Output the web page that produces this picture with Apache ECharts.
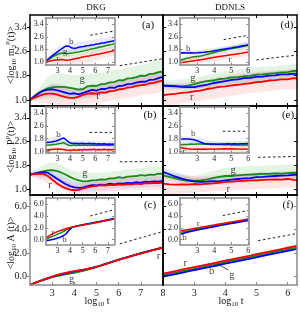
<!DOCTYPE html>
<html><head><meta charset="utf-8">
<script src="https://cdn.jsdelivr.net/npm/echarts@6/dist/echarts.min.js"></script>
<style>html,body{margin:0;padding:0;background:#fff}#c{width:300px;height:315px}</style>
</head><body><div id="c"></div>
<script>
// ---------- x grids ----------
const xL  = [2.0,2.2,2.4,2.6,2.8,3.0,3.2,3.4,3.6,3.8,4.0,4.2,4.4,4.6,4.8,5.0,5.2,5.4,5.6,5.8,6.0,6.2,6.4,6.6,6.8,7.0,7.2,7.4,7.6,7.8,8.0];
const xR  = [2.0,2.2,2.4,2.6,2.8,3.0,3.2,3.4,3.6,3.8,4.0,4.2,4.4,4.6,4.8,5.0,5.2,5.4,5.6,5.8,6.0,6.2,6.3];
const xLi = [2.1,2.3,2.5,2.7,2.9,3.1,3.3,3.5,3.7,3.9,4.1,4.3,4.5,4.7,4.9,5.1,5.3,5.5,5.7,5.9,6.1,6.3,6.5,6.7,6.9,7.1,7.3,7.5];
const xRi = [2.0,2.2,2.4,2.6,2.8,3.0,3.2,3.4,3.6,3.8,4.0,4.2,4.4,4.6,4.8,5.0,5.2,5.4,5.6,5.8,6.0];
const bxL = [2,3,4,5,6,7,8];
const bxR = [2,3,4,5,6,6.3];
const bxLi = [2.1,3,4,5,6,7,7.5];
const bxRi = [2,3,4,5,6];

// ---------- tick labels ----------
const tickXL = [3,4,5,6,7,8];
const tickXR = [3,4,5,6];
const tickXLi = [3,4,5,6,7];
const tickXRi = [3,4,5,6];
const tickYm = [1.0,1.8,2.6,3.4];
const tickYA = [0,2,4,6];

// ---------- panel (a) DKG m2 ----------
const aG = [1.00,1.12,1.24,1.32,1.38,1.41,1.43,1.43,1.42,1.40,1.37,1.34,1.36,1.45,1.47,1.46,1.52,1.53,1.58,1.59,1.65,1.64,1.71,1.72,1.75,1.80,1.79,1.86,1.87,1.92,1.93];
const aB = [1.00,1.12,1.22,1.30,1.34,1.35,1.32,1.28,1.24,1.20,1.22,1.18,1.23,1.28,1.33,1.31,1.36,1.36,1.41,1.40,1.46,1.47,1.52,1.53,1.57,1.60,1.60,1.66,1.67,1.72,1.76];
const aR = [1.00,1.07,1.13,1.18,1.21,1.21,1.18,1.13,1.09,1.07,1.07,1.11,1.17,1.21,1.22,1.21,1.25,1.24,1.29,1.30,1.35,1.36,1.41,1.42,1.46,1.49,1.50,1.55,1.56,1.61,1.64];
const aGlo = [1.0,1.05,1.0,1.1,1.3,1.45,1.6],  aGhi = [1.0,1.85,1.82,1.88,2.0,2.15,2.3];
const aBlo = [1.0,1.15,1.05,1.15,1.3,1.42,1.55], aBhi = [1.0,1.55,1.4,1.5,1.62,1.78,1.95];
const aRlo = [1.0,0.85,0.85,0.9,1.02,1.15,1.3], aRhi = [1.0,1.5,1.35,1.5,1.65,1.8,1.95];
const aDashX = [6.05,8.0], aDashY = [2.13,2.36];
const aLab = [[4.35,1.68,'g'],[5.07,1.12,'r']];
const aiB = [1.08,1.20,1.33,1.46,1.58,1.70,1.82,1.93,2.02,2.00,1.90,1.86,1.88,1.93,1.96,1.98,2.03,2.05,2.08,2.10,2.14,2.16,2.20,2.21,2.26,2.29,2.31,2.36];
const aiG = [1.06,1.16,1.26,1.36,1.44,1.50,1.55,1.56,1.53,1.54,1.56,1.58,1.61,1.63,1.68,1.70,1.75,1.78,1.82,1.85,1.89,1.93,1.97,1.99,2.04,2.07,2.10,2.15];
const aiR = [1.00,1.04,1.07,1.10,1.12,1.14,1.15,1.13,1.11,1.12,1.15,1.19,1.22,1.25,1.30,1.32,1.36,1.38,1.42,1.44,1.48,1.50,1.54,1.57,1.62,1.64,1.68,1.73];
const aiGlo = [1.0,1.3,1.35,1.45,1.6,1.8,1.9],   aiGhi = [1.12,1.7,1.75,1.9,2.1,2.25,2.35];
const aiBlo = [1.05,1.5,1.65,1.75,1.9,2.05,2.15], aiBhi = [1.15,1.95,2.2,2.3,2.45,2.55,2.65];
const aiRlo = [0.9,0.85,0.85,0.95,1.1,1.3,1.4],  aiRhi = [1.1,1.4,1.4,1.55,1.75,1.9,2.0];
const aiDashX = [5.6,7.5], aiDashY = [2.70,2.97];
const aiLab = [[4.1,2.27,'b'],[3.61,1.63,'g'],[3.05,1.2,'r']];

// ---------- panel (b) DKG P ----------
const bG = [1.49,1.52,1.56,1.60,1.63,1.64,1.61,1.56,1.49,1.41,1.34,1.29,1.26,1.27,1.29,1.30,1.33,1.32,1.36,1.36,1.40,1.38,1.42,1.43,1.44,1.47,1.45,1.49,1.48,1.52,1.51];
const bB = [1.49,1.52,1.55,1.57,1.55,1.46,1.36,1.26,1.17,1.10,1.06,1.04,1.06,1.10,1.13,1.12,1.15,1.14,1.18,1.16,1.19,1.18,1.21,1.20,1.23,1.22,1.25,1.24,1.26,1.25,1.28];
const bR = [1.49,1.51,1.52,1.51,1.44,1.32,1.20,1.10,1.03,0.98,0.96,0.97,1.02,1.06,1.09,1.11,1.13,1.12,1.14,1.13,1.16,1.14,1.17,1.16,1.18,1.17,1.20,1.19,1.21,1.20,1.22];
const bGlo = [1.45,1.4,1.1,1.1,1.2,1.28,1.3],   bGhi = [1.55,1.9,1.6,1.55,1.62,1.7,1.75];
const bBlo = [1.45,1.3,0.9,0.95,1.02,1.05,1.1],  bBhi = [1.55,1.65,1.25,1.3,1.38,1.4,1.45];
const bRlo = [1.45,1.15,0.8,0.88,0.95,0.98,1.0], bRhi = [1.55,1.5,1.15,1.32,1.38,1.38,1.42];
const bDashX = [6.05,8.0], bDashY = [1.92,1.93];
const bLab = [[4.48,1.54,'g'],[2.9,1.13,'r']];
const biB = [1.56,1.58,1.60,1.63,1.66,1.72,1.79,1.85,1.72,1.58,1.51,1.50,1.52,1.49,1.51,1.50,1.48,1.51,1.49,1.50,1.47,1.49,1.46,1.48,1.45,1.47,1.45,1.46];
const biG = [1.39,1.40,1.41,1.43,1.45,1.48,1.51,1.56,1.46,1.39,1.38,1.40,1.38,1.40,1.39,1.41,1.38,1.40,1.39,1.41,1.38,1.40,1.39,1.41,1.38,1.40,1.39,1.40];
const biR = [1.08,1.10,1.12,1.13,1.14,1.15,1.14,1.12,1.09,1.07,1.08,1.10,1.08,1.11,1.09,1.12,1.10,1.12,1.11,1.13,1.10,1.12,1.11,1.13,1.10,1.12,1.11,1.12];
const biBlo = [1.45,1.5,1.35,1.35,1.32,1.3,1.3],  biBhi = [1.7,2.0,1.7,1.68,1.65,1.62,1.62];
const biGlo = [1.3,1.35,1.28,1.28,1.27,1.27,1.27], biGhi = [1.5,1.62,1.52,1.52,1.52,1.52,1.52];
const biRlo = [0.95,0.98,0.95,0.97,0.97,0.97,0.97], biRhi = [1.2,1.3,1.22,1.25,1.25,1.25,1.25];
const biDashX = [5.55,7.5], biDashY = [2.2,2.2];
const biLab = [[3.08,2.03,'b'],[2.35,1.0,'r']];

// ---------- panel (c) DKG A ----------
const cR = [-0.70,-0.55,-0.41,-0.27,-0.13,0.00,0.12,0.23,0.32,0.40,0.46,0.52,0.58,0.65,0.73,0.83,0.94,1.06,1.18,1.30,1.42,1.53,1.64,1.75,1.86,1.96,2.06,2.16,2.26,2.35,2.44];
const cG = [-0.70,-0.56,-0.42,-0.29,-0.17,-0.06,0.03,0.11,0.18,0.25,0.32,0.40,0.49,0.59,0.70,0.81,0.93,1.06,1.18,1.31,1.43,1.55,1.66,1.77,1.88,1.99,2.09,2.19,2.29,2.39,2.49];
const cB = [-0.70,-0.55,-0.42,-0.28,-0.14,-0.02,0.09,0.19,0.28,0.36,0.43,0.50,0.57,0.65,0.74,0.84,0.95,1.07,1.19,1.31,1.43,1.54,1.65,1.76,1.87,1.98,2.08,2.18,2.28,2.37,2.47];
const cDashX = [6.05,8.0], cDashY = [2.78,3.84];
const cLab = [[3.88,-0.2,'g'],[7.8,1.75,'r']];
const ciR = [0.35,0.62,0.86,1.08,1.28,1.45,1.60,1.74,1.87,1.98,2.08,2.17,2.26,2.34,2.42,2.50,2.58,2.66,2.74,2.82,2.90,2.98,3.06,3.14,3.23,3.31,3.40,3.48];
const ciG = [0.10,0.28,0.46,0.64,0.82,1.00,1.20,1.42,1.66,1.88,2.04,2.15,2.25,2.34,2.42,2.50,2.58,2.66,2.74,2.82,2.90,2.98,3.07,3.15,3.24,3.33,3.42,3.51];
const ciB = [-0.15,-0.10,-0.02,0.08,0.20,0.34,0.50,0.72,1.05,1.55,1.98,2.20,2.31,2.40,2.48,2.56,2.64,2.72,2.80,2.88,2.96,3.04,3.13,3.22,3.31,3.40,3.49,3.58];
const ciDashX = [5.6,7.5], ciDashY = [3.98,5.05];
const ciLab = [[2.62,1.12,'r'],[3.55,-0.05,'b']];

// ---------- panel (d) DDNLS m2 ----------
const dG = [1.48,1.47,1.46,1.45,1.47,1.52,1.58,1.62,1.64,1.69,1.70,1.74,1.75,1.78,1.79,1.83,1.84,1.87,1.88,1.91,1.92,1.96,1.95];
const dB = [1.47,1.46,1.45,1.43,1.42,1.42,1.46,1.50,1.55,1.59,1.62,1.66,1.68,1.72,1.73,1.76,1.77,1.80,1.81,1.84,1.84,1.87,1.86];
const dR = [1.16,1.18,1.20,1.23,1.25,1.28,1.31,1.36,1.39,1.43,1.45,1.48,1.50,1.53,1.55,1.59,1.60,1.64,1.65,1.68,1.68,1.72,1.70];
const dGlo = [1.35,1.35,1.5,1.6,1.7,1.72],  dGhi = [1.6,1.72,1.95,2.08,2.15,2.18];
const dBlo = [1.4,1.35,1.52,1.62,1.72,1.74], dBhi = [1.55,1.52,1.75,1.9,1.98,2.0];
const dRlo = [0.85,0.95,1.1,1.25,1.35,1.38], dRhi = [1.45,1.6,1.8,1.92,2.0,2.02];
const dDashX = [5.0,6.3], dDashY = [2.32,2.48];
const dLab = [[2.96,1.71,'g'],[2.92,1.09,'r']];
const diB = [1.57,1.58,1.57,1.58,1.57,1.58,1.60,1.61,1.64,1.67,1.71,1.75,1.79,1.82,1.86,1.89,1.93,1.96,2.01,2.05,2.09];
const diG = [1.10,1.17,1.23,1.28,1.32,1.35,1.38,1.43,1.49,1.55,1.60,1.66,1.71,1.76,1.81,1.85,1.89,1.92,1.97,2.01,2.05];
const diR = [0.95,0.98,1.01,1.04,1.07,1.10,1.13,1.17,1.21,1.25,1.29,1.33,1.36,1.39,1.42,1.45,1.48,1.52,1.55,1.59,1.63];
const diBlo = [1.5,1.5,1.6,1.75,1.95], diBhi = [1.7,1.75,1.9,2.05,2.25];
const diGlo = [1.0,1.2,1.45,1.7,1.9],  diGhi = [1.25,1.55,1.8,2.05,2.25];
const diRlo = [0.82,0.9,1.05,1.2,1.4], diRhi = [1.1,1.35,1.55,1.7,1.85];
const diDashX = [4.55,6.0], diDashY = [2.42,2.70];
const diLab = [[2.47,1.82,'b'],[4.92,1.13,'r']];

// ---------- panel (e) DDNLS P ----------
const eB = [1.58,1.50,1.42,1.35,1.30,1.26,1.24,1.25,1.27,1.26,1.29,1.32,1.34,1.36,1.37,1.40,1.41,1.43,1.44,1.45,1.46,1.48,1.49];
const eG = [1.46,1.41,1.36,1.31,1.28,1.28,1.29,1.32,1.37,1.41,1.44,1.44,1.46,1.48,1.49,1.50,1.51,1.51,1.53,1.52,1.54,1.55,1.54];
const eR = [1.18,1.16,1.15,1.16,1.15,1.17,1.16,1.18,1.19,1.21,1.24,1.25,1.27,1.28,1.29,1.29,1.31,1.32,1.33,1.32,1.34,1.31,1.30];
const eGlo = [1.35,1.15,1.3,1.35,1.38,1.38], eGhi = [1.6,1.45,1.72,1.78,1.82,1.82];
const eBlo = [1.45,1.12,1.15,1.25,1.3,1.3],  eBhi = [1.7,1.38,1.45,1.55,1.6,1.62];
const eRlo = [0.85,0.88,0.95,1.0,1.05,1.05], eRhi = [1.45,1.42,1.5,1.55,1.58,1.58];
const eDashX = [5.05,6.3], eDashY = [2.07,2.10];
const eLab = [[4.25,1.63,'g'],[4.09,0.99,'r']];
const eiB = [1.78,1.79,1.78,1.77,1.73,1.67,1.58,1.50,1.47,1.46,1.47,1.45,1.47,1.46,1.48,1.46,1.48,1.47,1.49,1.48,1.50];
const eiG = [1.42,1.43,1.44,1.46,1.45,1.47,1.46,1.45,1.46,1.44,1.45,1.43,1.44,1.42,1.43,1.41,1.42,1.40,1.41,1.40,1.41];
const eiR = [1.24,1.20,1.17,1.15,1.14,1.15,1.13,1.15,1.14,1.16,1.14,1.16,1.15,1.17,1.16,1.17,1.15,1.16,1.14,1.16,1.14];
const eiBlo = [1.65,1.5,1.35,1.35,1.38], eiBhi = [1.95,1.9,1.62,1.62,1.65];
const eiGlo = [1.3,1.35,1.32,1.3,1.3],   eiGhi = [1.55,1.62,1.62,1.6,1.6];
const eiRlo = [1.0,0.98,0.98,1.0,0.98],  eiRhi = [1.4,1.32,1.32,1.33,1.32];
const eiDashX = [4.5,5.95], eiDashY = [2.27,2.27];
const eiLab = [[2.76,2.1,'b'],[2.22,1.0,'r']];

// ---------- panel (f) DDNLS A ----------
const fR = [0.25,0.36,0.47,0.58,0.69,0.80,0.91,1.02,1.13,1.24,1.35,1.46,1.57,1.68,1.79,1.90,2.01,2.12,2.23,2.34,2.45,2.56,2.61];
const fG = [0.12,0.22,0.33,0.44,0.55,0.66,0.77,0.88,0.99,1.11,1.22,1.33,1.44,1.55,1.66,1.77,1.88,1.99,2.10,2.21,2.32,2.43,2.49];
const fB = [0.00,0.10,0.21,0.32,0.43,0.54,0.65,0.76,0.87,0.98,1.09,1.20,1.31,1.42,1.53,1.64,1.75,1.86,1.97,2.08,2.19,2.30,2.36];
const fDashX = [5.05,6.3], fDashY = [3.05,3.66];
const fLab = [[2.71,1.17,'r'],[3.56,0.41,'b'],[4.21,0.15,'g']];
const fLeadX = [3.75,4.1], fLeadY = [1.07,0.55];
const fiR = [1.50,1.59,1.68,1.78,1.88,1.98,2.08,2.18,2.28,2.38,2.48,2.58,2.68,2.78,2.88,2.98,3.08,3.18,3.28,3.38,3.48];
const fiG = [1.22,1.33,1.44,1.55,1.66,1.77,1.88,1.99,2.10,2.21,2.32,2.42,2.52,2.62,2.72,2.82,2.92,3.02,3.12,3.22,3.32];
const fiB = [0.90,1.08,1.24,1.38,1.51,1.63,1.75,1.86,1.97,2.08,2.19,2.30,2.41,2.52,2.62,2.72,2.82,2.92,3.02,3.12,3.22];
const fiDashX = [4.5,6.0], fiDashY = [4.05,4.9];
const fiLab = [[3.06,2.7,'r'],[2.25,0.3,'b']];

// ---------- styling ----------
const F = '"Liberation Serif","DejaVu Serif",serif';
const COL = {R:'#f40000', G:'#178a17', B:'#0000f2'};
const FILL = {R:'rgba(255,80,80,0.14)', G:'rgba(40,170,40,0.13)', B:'rgba(80,80,255,0.12)'};
const K = '#000', GR = '#8a8a8a';

const panels = [
 {box:[30,15,133,91], x:[2,8], y:[0.8,3.8], xs:xL, R:aR, G:aG, B:aB, bx:bxL, bands:{G:[aGlo,aGhi],B:[aBlo,aBhi],R:[aRlo,aRhi]}, dash:[aDashX,aDashY], lab:aLab, c:{l:K,r:K,t:K,b:K}, xt:tickXL, yt:tickYm, xl:false, yl:true, yout:true, lw:1.8, fs:10},
 {box:[45.7,18,68.6,47], x:[2.07,7.5], y:[0.8,3.8], xs:xLi, R:aiR, G:aiG, B:aiB, bx:bxLi, bands:{G:[aiGlo,aiGhi],B:[aiBlo,aiBhi],R:[aiRlo,aiRhi]}, dash:[aiDashX,aiDashY], lab:aiLab, c:{l:GR,r:GR,t:GR,b:GR}, xt:tickXLi, yt:tickYm, xl:true, yl:true, inset:true, lw:1.5, fs:8},
 {box:[30,106,133,89], x:[2,8], y:[0.8,3.8], xs:xL, R:bR, G:bG, B:bB, bx:bxL, bands:{G:[bGlo,bGhi],B:[bBlo,bBhi],R:[bRlo,bRhi]}, dash:[bDashX,bDashY], lab:bLab, c:{l:K,r:K,t:K,b:K}, xt:tickXL, yt:tickYm, xl:false, yl:true, yout:true, lw:1.8, fs:10},
 {box:[45.7,107,68.6,46], x:[2.07,7.5], y:[0.9,3.8], xs:xLi, R:biR, G:biG, B:biB, bx:bxLi, bands:{G:[biGlo,biGhi],B:[biBlo,biBhi],R:[biRlo,biRhi]}, dash:[biDashX,biDashY], lab:biLab, c:{l:GR,r:GR,t:GR,b:GR}, xt:tickXLi, yt:tickYm, xl:true, yl:true, inset:true, lw:1.5, fs:8},
 {box:[30,195,133,90], x:[2,8], y:[-0.72,6.94], xs:xL, R:cR, G:cG, B:cB, dash:[cDashX,cDashY], lab:cLab, c:{l:GR,r:K,t:K,b:GR}, xt:tickXL, yt:tickYA, xl:true, yl:true, yout:true, lw:1.8, fs:10},
 {box:[45.7,198,68.6,46.5], x:[2.07,7.5], y:[-0.8,7.0], xs:xLi, R:ciR, G:ciG, B:ciB, dash:[ciDashX,ciDashY], lab:ciLab, c:{l:GR,r:GR,t:GR,b:GR}, xt:tickXLi, yt:tickYA, xl:true, yl:true, inset:true, lw:1.5, fs:8},
 {box:[163,15,134,91], x:[2,6.3], y:[0.8,3.8], xs:xR, R:dR, G:dG, B:dB, bx:bxR, bands:{G:[dGlo,dGhi],B:[dBlo,dBhi],R:[dRlo,dRhi]}, dash:[dDashX,dDashY], lab:dLab, c:{l:K,r:K,t:K,b:K}, xt:tickXR, yt:tickYm, xl:false, yl:false, lw:1.8, fs:10},
 {box:[180,18,69,47], x:[1.98,6.04], y:[0.8,3.8], xs:xRi, R:diR, G:diG, B:diB, bx:bxRi, bands:{G:[diGlo,diGhi],B:[diBlo,diBhi],R:[diRlo,diRhi]}, dash:[diDashX,diDashY], lab:diLab, c:{l:GR,r:GR,t:GR,b:GR}, xt:tickXRi, yt:tickYm, xl:true, yl:true, inset:true, lw:1.5, fs:8},
 {box:[163,106,134,89], x:[2,6.3], y:[0.8,3.8], xs:xR, R:eR, G:eG, B:eB, bx:bxR, bands:{G:[eGlo,eGhi],B:[eBlo,eBhi],R:[eRlo,eRhi]}, dash:[eDashX,eDashY], lab:eLab, c:{l:K,r:K,t:K,b:K}, xt:tickXR, yt:tickYm, xl:false, yl:false, lw:1.8, fs:10},
 {box:[180,107,69,46], x:[1.98,6.04], y:[0.9,3.8], xs:xRi, R:eiR, G:eiG, B:eiB, bx:bxRi, bands:{G:[eiGlo,eiGhi],B:[eiBlo,eiBhi],R:[eiRlo,eiRhi]}, dash:[eiDashX,eiDashY], lab:eiLab, c:{l:GR,r:GR,t:GR,b:GR}, xt:tickXRi, yt:tickYm, xl:true, yl:true, inset:true, lw:1.5, fs:8},
 {box:[163,195,134,90], x:[2,6.3], y:[-0.72,6.94], xs:xR, R:fR, G:fG, B:fB, dash:[fDashX,fDashY], lab:fLab, lead:[fLeadX,fLeadY], c:{l:K,r:GR,t:K,b:GR}, xt:tickXR, yt:tickYA, xl:true, yl:false, lw:1.8, fs:10},
 {box:[180,198,69,46.5], x:[1.98,6.04], y:[-0.8,7.0], xs:xRi, R:fiR, G:fiG, B:fiB, dash:[fiDashX,fiDashY], lab:fiLab, c:{l:GR,r:GR,t:GR,b:GR}, xt:tickXRi, yt:tickYA, xl:true, yl:true, inset:true, lw:1.5, fs:8}
];

const grids=[], xAxes=[], yAxes=[], series=[];
panels.forEach((p, gi) => {
  grids.push({left:p.box[0], top:p.box[1], width:p.box[2], height:p.box[3], show:!!p.inset, backgroundColor:'#fff', borderWidth:0, z:p.inset?2:0});
  const zA = p.inset ? 8 : 6;
  const mkX = (pos, color, showL) => ({gridIndex:gi, type:'value', position:pos, min:p.x[0], max:p.x[1],
    axisLine:{show:true, onZero:false, lineStyle:{color:color, width:1.5}},
    axisTick:{show:true, inside:true, length:p.inset?2.5:3, customValues:p.xt, lineStyle:{color:color, width:1}},
    axisLabel:{show:showL, customValues:p.xt, formatter:v=>String(Math.round(v)), fontFamily:F, fontSize:p.fs, color:'#222', margin:p.inset?2:3},
    splitLine:{show:false}, z: zA + (color===K?1:0)});
  const mkY = (pos, color, showL, out) => ({gridIndex:gi, type:'value', position:pos, min:p.y[0], max:p.y[1],
    axisLine:{show:true, onZero:false, lineStyle:{color:color, width:1.5}},
    axisTick:{show:!(pos==='right' && !p.inset && p.yout), inside:!out, length:p.inset?2.5:3, customValues:p.yt, lineStyle:{color:color, width:1}},
    axisLabel:{show:showL, customValues:p.yt, formatter:v=>v.toFixed(1), fontFamily:F, fontSize:p.fs, color:'#222', margin:p.inset?2:3},
    splitLine:{show:false}, z: zA + (color===K?1:0)});
  xAxes.push(mkX('bottom', p.c.b, p.xl));
  xAxes.push(mkX('top', p.c.t, false));
  yAxes.push(mkY('left', p.c.l, p.yl, !!p.yout));
  yAxes.push(mkY('right', p.c.r, false, false));
  const xi = 2*gi, yi = 2*gi;
  const zb = p.inset ? 3 : 1;
  if (p.bands) {
    ['G','B','R'].forEach(k => {
      const lo = p.bands[k][0], hi = p.bands[k][1], bx = p.bx, fill = FILL[k];
      series.push({type:'custom', xAxisIndex:xi, yAxisIndex:yi, silent:true, z:zb,
        data:[[bx[0], lo[0]]], encode:{x:0,y:1},
        renderItem:(params, api) => {
          const cs = params.coordSys, pts = [];
          for (let i=0;i<bx.length;i++) pts.push(api.coord([bx[i], hi[i]]));
          for (let i=bx.length-1;i>=0;i--) pts.push(api.coord([bx[i], lo[i]]));
          return {type:'polygon', shape:{points:pts, smooth:0.2}, style:{fill:fill},
            clipPath:{type:'rect', shape:{x:cs.x, y:cs.y, width:cs.width, height:cs.height}}};
        }});
    });
  }
  ['G','B','R'].forEach(k => {
    series.push({type:'line', xAxisIndex:xi, yAxisIndex:yi, data:p.xs.map((x,i)=>[x,p[k][i]]),
      showSymbol:false, symbol:'none', lineStyle:{color:COL[k], width:p.lw}, z:zb+1, silent:true, animation:false});
  });
  series.push({type:'line', xAxisIndex:xi, yAxisIndex:yi, data:p.dash[0].map((x,i)=>[x,p.dash[1][i]]),
    symbol:'none', lineStyle:{color:'#222', width:1, type:[2.5,2.5]}, z:zb+1, silent:true});
  if (p.lead) series.push({type:'line', xAxisIndex:xi, yAxisIndex:yi, data:p.lead[0].map((x,i)=>[x,p.lead[1][i]]),
    symbol:'none', lineStyle:{color:'#222', width:0.8}, z:zb+2, silent:true});
  series.push({type:'scatter', xAxisIndex:xi, yAxisIndex:yi, data:p.lab.map(l=>({value:[l[0],l[1]], name:l[2]})),
    symbolSize:1, itemStyle:{color:'rgba(0,0,0,0)'}, z:zb+3, silent:true,
    label:{show:true, position:'inside', formatter:'{b}', fontFamily:F, fontSize:p.inset?9:10.5, color:'#111'}});
});

const rich = {
  a:{fontFamily:F, fontSize:10, color:'#111', lineHeight:14},
  s:{fontFamily:F, fontSize:7, color:'#111', lineHeight:14, verticalAlign:'bottom'},
  p:{fontFamily:F, fontSize:7, color:'#111', lineHeight:14, verticalAlign:'top'}
};
const T = (x, y, text, size, rot) => ({type:'text', x:x, y:y, rotation:rot||0, silent:true, z:20,
  style:{text:text, rich:rich, fontFamily:F, fontSize:size||10, fill:'#111', align:'center', verticalAlign:'middle', textAlign:'center', textVerticalAlign:'middle'}});

const graphics = [
  T(96, 8, 'DKG', 9), T(230, 8, 'DDNLS', 9),
  T(148, 25, '(a)', 11), T(287, 25, '(d)', 11),
  T(150, 115, '(b)', 11), T(288, 115, '(e)', 11),
  T(150, 205, '(c)', 11), T(288, 205, '(f)', 11),
  T(11, 55, '{a|<log}{s|10}{a| m}{s|2}{p|ρ}{a|(t)>}', 10, Math.PI/2),
  T(11, 147, '{a|<log}{s|10}{a| P}{p|ρ}{a|(t)>}', 10, Math.PI/2),
  T(11, 243, '{a|<log}{s|10}{a| A (t)>}', 10, Math.PI/2),
  T(97, 301, '{a|log}{s|10}{a| t}', 10), T(231, 301, '{a|log}{s|10}{a| t}', 10)
];

const chart = echarts.init(document.getElementById('c'), null, {renderer:'canvas', width:300, height:315});
chart.setOption({animation:false, backgroundColor:'#fff', grid:grids, xAxis:xAxes, yAxis:yAxes, series:series, graphic:graphics});
</script></body></html>
